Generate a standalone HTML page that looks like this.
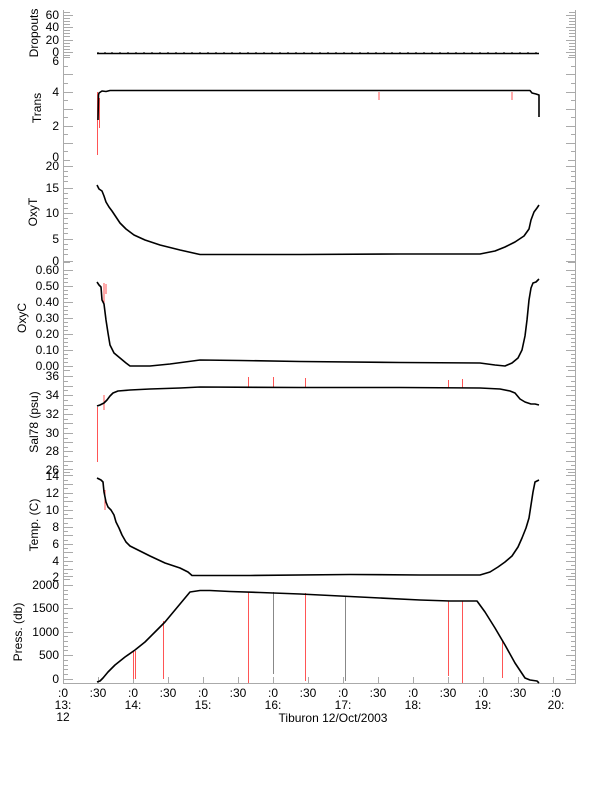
<!DOCTYPE html>
<html><head><meta charset="utf-8"><style>
html,body{margin:0;padding:0;background:#fff}
svg{display:block;font-family:"Liberation Sans",sans-serif;font-size:12px}
</style></head><body>
<svg width="612" height="785" viewBox="0 0 612 785" xmlns="http://www.w3.org/2000/svg">
<g stroke="#aaa" stroke-width="1" fill="none">
<line x1="63.5" y1="10" x2="63.5" y2="683"/>
<line x1="575.5" y1="10" x2="575.5" y2="683"/>
<line x1="63" y1="683.5" x2="576" y2="683.5"/>
<line x1="63" y1="57.5" x2="70" y2="57.5"/><line x1="568" y1="57.5" x2="576" y2="57.5"/>
<line x1="63" y1="160.5" x2="70" y2="160.5"/><line x1="568" y1="160.5" x2="576" y2="160.5"/>
<line x1="63" y1="262.5" x2="70" y2="262.5"/><line x1="568" y1="262.5" x2="576" y2="262.5"/>
<line x1="63" y1="370.5" x2="70" y2="370.5"/><line x1="568" y1="370.5" x2="576" y2="370.5"/>
<line x1="63" y1="472.5" x2="70" y2="472.5"/><line x1="568" y1="472.5" x2="576" y2="472.5"/>
<line x1="63" y1="579.5" x2="70" y2="579.5"/><line x1="568" y1="579.5" x2="576" y2="579.5"/>
</g>
<g id="ticks" stroke="#aaa" stroke-width="1">
<path d="M63 12.5h7M63 15.5h10M63 18.5h7M63 21.5h7M63 24.5h7M63 27.5h10M63 30.5h7M63 33.5h7M63 36.5h7M63 40.5h10M63 43.5h7M63 46.5h7M63 49.5h7M63 52.5h10M63 55.5h7
M63 66.5h5M63 74.5h10M63 83.5h5M63 92.5h10M63 100.5h5M63 109.5h10M63 117.5h5M63 126.5h10M63 134.5h5M63 143.5h10M63 151.5h5
M63 166.5h10M63 171.5h5M63 176.5h5M63 181.5h5M63 188.5h10M63 193.5h5M63 198.5h5M63 203.5h5M63 208.5h5M63 213.5h10M63 218.5h5M63 223.5h5M63 228.5h5M63 233.5h5M63 239.5h10M63 244.5h5M63 249.5h5M63 254.5h5M63 261.5h10
M63 270.5h10M63 274.5h5M63 278.5h5M63 282.5h5M63 286.5h10M63 290.5h5M63 294.5h5M63 298.5h5M63 302.5h10M63 306.5h5M63 310.5h5M63 314.5h5M63 318.5h10M63 322.5h5M63 326.5h5M63 330.5h5M63 334.5h10M63 338.5h5M63 342.5h5M63 346.5h5M63 350.5h10M63 354.5h5M63 358.5h5M63 362.5h5M63 366.5h10
M63 376.5h10M63 381.5h5M63 386.5h10M63 390.5h5M63 395.5h10M63 400.5h5M63 405.5h10M63 409.5h5M63 414.5h10M63 419.5h5M63 423.5h10M63 428.5h5M63 433.5h10M63 438.5h5M63 442.5h10M63 447.5h5M63 451.5h10M63 456.5h5M63 461.5h10M63 465.5h5M63 469.5h10
M63 475.5h10M63 480.5h5M63 484.5h10M63 488.5h5M63 493.5h10M63 497.5h5M63 501.5h10M63 506.5h5M63 510.5h10M63 514.5h5M63 518.5h10M63 523.5h5M63 527.5h10M63 531.5h5M63 535.5h10M63 540.5h5M63 544.5h10M63 548.5h5M63 552.5h10M63 557.5h5M63 561.5h10M63 565.5h5M63 569.5h10M63 573.5h5M63 576.5h10
M63 585.5h10M63 590.5h5M63 594.5h5M63 599.5h5M63 604.5h5M63 608.5h10M63 613.5h5M63 618.5h5M63 622.5h5M63 627.5h5M63 632.5h10M63 636.5h5M63 641.5h5M63 646.5h5M63 650.5h5M63 655.5h10M63 660.5h5M63 665.5h5M63 669.5h5M63 674.5h5M63 679.5h10"/>
</g>
<use href="#ticks" transform="translate(639,0) scale(-1,1)"/>
<g stroke="#aaa" stroke-width="1">
<path d="M63.5 683v-6M98.5 683v-6M133.5 683v-6M168.5 683v-6M203.5 683v-6M238.5 683v-6M273.5 683v-6M308.5 683v-6M343.5 683v-6M378.5 683v-6M413.5 683v-6M448.5 683v-6M483.5 683v-6M518.5 683v-6M553.5 683v-6"/>
</g>
<g fill="#000" text-anchor="end">
<text x="59" y="19">60</text><text x="59" y="31">40</text><text x="59" y="44">20</text><text x="59" y="56">0</text>
<text x="59" y="65">6</text><text x="59" y="96">4</text><text x="59" y="130">2</text><text x="59" y="161">0</text>
<text x="59" y="170">20</text><text x="59" y="192">15</text><text x="59" y="217">10</text><text x="59" y="243">5</text><text x="59" y="265">0</text>
<text x="59" y="274">0.60</text><text x="59" y="290">0.50</text><text x="59" y="306">0.40</text><text x="59" y="322">0.30</text><text x="59" y="338">0.20</text><text x="59" y="354">0.10</text><text x="59" y="370">0.00</text>
<text x="59" y="380">36</text><text x="59" y="399">34</text><text x="59" y="418">32</text><text x="59" y="437">30</text><text x="59" y="455">28</text><text x="59" y="474">26</text>
<text x="59" y="480">14</text><text x="59" y="497">12</text><text x="59" y="514">10</text><text x="59" y="531">8</text><text x="59" y="548">6</text><text x="59" y="565">4</text><text x="59" y="581">2</text>
<text x="59" y="589">2000</text><text x="59" y="612">1500</text><text x="59" y="636">1000</text><text x="59" y="659">500</text><text x="59" y="683">0</text>
</g>
<g fill="#000" text-anchor="middle">
<text transform="translate(38,33) rotate(-90)">Dropouts</text>
<text transform="translate(41,108) rotate(-90)">Trans</text>
<text transform="translate(37,212) rotate(-90)">OxyT</text>
<text transform="translate(26,318) rotate(-90)">OxyC</text>
<text transform="translate(38,422) rotate(-90)">Sal78 (psu)</text>
<text transform="translate(38,525) rotate(-90)">Temp. (C)</text>
<text transform="translate(22,632) rotate(-90)">Press. (db)</text>
<text x="63" y="697">:0</text><text x="98" y="697">:30</text><text x="133" y="697">:0</text><text x="168" y="697">:30</text><text x="203" y="697">:0</text><text x="238" y="697">:30</text><text x="273" y="697">:0</text><text x="308" y="697">:30</text><text x="343" y="697">:0</text><text x="378" y="697">:30</text><text x="413" y="697">:0</text><text x="448" y="697">:30</text><text x="483" y="697">:0</text><text x="518" y="697">:30</text><text x="556" y="697">:0</text>
<text x="63" y="709">13:</text><text x="133" y="709">14:</text><text x="203" y="709">15:</text><text x="273" y="709">16:</text><text x="343" y="709">17:</text><text x="413" y="709">18:</text><text x="483" y="709">19:</text><text x="556" y="709">20:</text>
<text x="63" y="721">12</text>
<text x="333" y="722">Tiburon 12/Oct/2003</text>
</g>
<g stroke="#f55" stroke-width="1" fill="none">
<path d="M97.5 92v63M99.5 98v30M512 92v8M379 92v8"/>
<path d="M104 283v20M106 284v10"/>
<path d="M97.5 407v55M104 395v15M248.5 377v10M273.5 377v10M305.5 378v10M448.5 380v8M462.5 379v9"/>
<path d="M105 490v20"/>
<path d="M133.5 651v28M135.5 651v28M163.5 621v58M248.5 592v91M305.5 593v88M448.5 601v75M462.5 601v82M502.5 640v38"/>
</g>
<g stroke="#888" stroke-width="1" fill="none"><path d="M273.5 592v82M345.5 596v85"/></g>
<g stroke="#000" stroke-width="1.6" fill="none" stroke-linejoin="round">
<path d="M97 53.5H539"/>
<path d="M98 54v-2M105 54v-2M112 54v-2M120 54v-2M128 54v-2M136 54v-2M144 54v-2M152 54v-2M160 54v-2M168 54v-2M176 54v-2M184 54v-2M192 54v-2M200 54v-2M208 54v-2M216 54v-2M224 54v-2M232 54v-2M240 54v-2M248 54v-2M256 54v-2M264 54v-2M272 54v-2M280 54v-2M288 54v-2M296 54v-2M304 54v-2M312 54v-2M320 54v-2M328 54v-2M336 54v-2M344 54v-2M352 54v-2M360 54v-2M368 54v-2M376 54v-2M384 54v-2M392 54v-2M400 54v-2M408 54v-2M416 54v-2M424 54v-2M432 54v-2M440 54v-2M448 54v-2M456 54v-2M464 54v-2M472 54v-2M480 54v-2M488 54v-2M496 54v-2M504 54v-2M512 54v-2M520 54v-2M528 54v-2M536 54v-2" stroke-width="1"/>
<path d="M98 120L98.5 95L99 93L102 91L106 91.5L110 90.5L120 90.5L200 90.5L530 90.5L532 93L536 94L539 95L539 117"/>
<path d="M97 185L99 189L102 191L104 196L106 202L109 207L112 211L116 217L120 223L126 229L134 235L145 240L160 245L180 250L200 254.5L300 254.5L400 254L480 254L495 251L505 247L515 242L524 236L529 229L531 220L534 212L537 208L539 205"/>
<path d="M97 282L99 285L101 287L102 300L104 304L106 320L108 333L110 345L114 353L120 358L126 363L130 366L150 366L170 364L200 360L240 360.5L300 361.5L400 362.5L480 363L495 365L505 366L512 363L518 358L522 350L525 336L527 320L529 300L531 288L533 283L536 282L539 279"/>
<path d="M97 406L100 405L102 404L104 403L107 400L110 396L113 393L118 391L130 390L150 389L180 388L200 387L300 387.5L400 387.5L480 388L500 389L510 391L515 393L520 399L525 402L531 404L535 404L539 405"/>
<path d="M97 478L101 480L103 482L104 492L106 502L108 507L111 510L114 515L116 522L119 528L122 535L126 542L130 546L138 550L150 556L165 563L180 568L188 572L192 575.5L250 575.5L350 574.5L420 575L480 575L490 572L498 567L505 562L512 556L518 547L522 538L526 528L529 518L531 505L533 492L535 482L539 480"/>
<path d="M97 682L100 681L103 678L108 672L115 665L125 657L135 650L145 642L155 632L165 622L175 610L185 598L190 592L200 590.5L210 590.5L230 591.5L260 592.5L300 594L340 596L380 598L420 600L450 601L477 601L485 612L495 628L505 645L515 663L525 678L530 680L537 681L539 683"/>
</g>
</svg>
</body></html>
